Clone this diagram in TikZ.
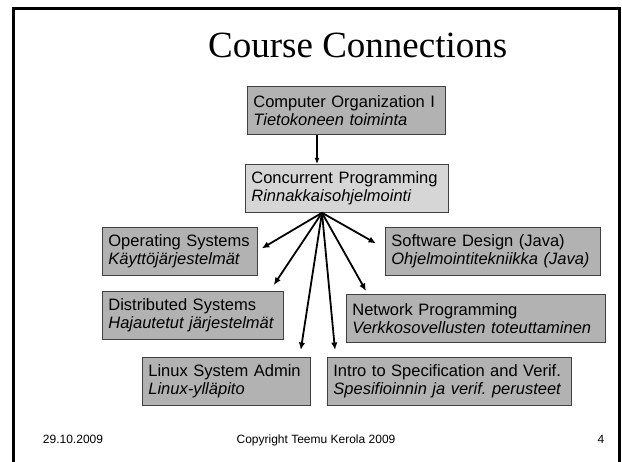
\documentclass[tikz,border=0pt]{standalone}
\usepackage{fontspec}
\setmainfont{Liberation Sans}
\newfontfamily\titlefont{Liberation Serif}
\usetikzlibrary{arrows.meta,calc}
\frenchspacing
\definecolor{boxgray}{HTML}{B2B2B2}
\definecolor{boxlight}{HTML}{D6D6D6}
\definecolor{edgegray}{HTML}{404040}
\tikzset{
  course/.style={draw=edgegray, fill=boxgray, line width=0.8pt, anchor=north west,
    minimum height=48pt, inner xsep=6pt, inner ysep=4pt, align=left,
    font=\fontsize{16.5}{17.5}\selectfont},
  flow/.style={line width=1.8pt, -{Latex[length=7.5pt,width=6.5pt]}},
  down/.style={line width=1.4pt, -{Latex[length=6pt,width=5pt]}},
  foot/.style={font=\fontsize{12}{14}\selectfont, anchor=base},
  frame/.style={line width=3pt, draw=black}
}
\begin{document}
\begin{tikzpicture}[x=1pt,y=-1pt]
\useasboundingbox (0,0) rectangle (622,462);
\fill[white] (0,0) rectangle (622,462);
\draw[frame] (13.5,462) -- (13.5,9) -- (619.5,9) -- (619.5,462);

\node[anchor=base west, inner sep=0pt, font=\titlefont\fontsize{37}{40}\selectfont] (title) at (208,58) {Course Connections};

\node[course, text width=186pt] (co) at (247,86) {Computer Organization I\\\itshape Tietokoneen toiminta};
\node[course, fill=boxlight, text width=191pt] (cp) at (245,164) {Concurrent Programming\\\itshape Rinnakkaisohjelmointi};
\node[course, text width=143pt] (os) at (102,227) {Operating Systems\\\itshape Käyttöjärjestelmät};
\node[course, text width=203pt] (sd) at (385,227) {Software Design (Java)\\\itshape Ohjelmointitekniikka (Java)};
\node[course, text width=169pt] (ds) at (102,291) {Distributed Systems\\\itshape Hajautetut järjestelmät};
\node[course, text width=247pt] (np) at (346,294) {Network Programming\\\itshape Verkkosovellusten toteuttaminen};
\node[course, text width=156pt] (lx) at (142,357) {Linux System Admin\\\itshape Linux-ylläpito};
\node[course, text width=232pt] (iv) at (327,357) {Intro to Specification and Verif.\\\itshape Spesifioinnin ja verif. perusteet};

\coordinate (hub) at ($(cp.south west)+(77,0)$);
\draw[down] ($(co.south west)+(70,0)$) -- ($(cp.north west)+(72,0)$);
\draw[flow] (hub) -- ($(os.east)+(4,-3)$);
\draw[flow] (hub) -- ($(sd.west)+(-9,-8)$);
\draw[flow] (hub) -- ($(ds.north east)+(-10,-6)$);
\draw[flow] (hub) -- ($(np.north west)+(20,-3)$);
\draw[flow] (hub) -- ($(lx.north east)+(-10,-7)$);
\draw[flow] (hub) -- ($(iv.north west)+(8,-7)$);

\node[foot] (date) at (73,444) {29.10.2009};
\node[foot] (copy) at (316,444) {Copyright Teemu Kerola 2009};
\node[foot] (page) at (601,444) {4};
\end{tikzpicture}
\end{document}
